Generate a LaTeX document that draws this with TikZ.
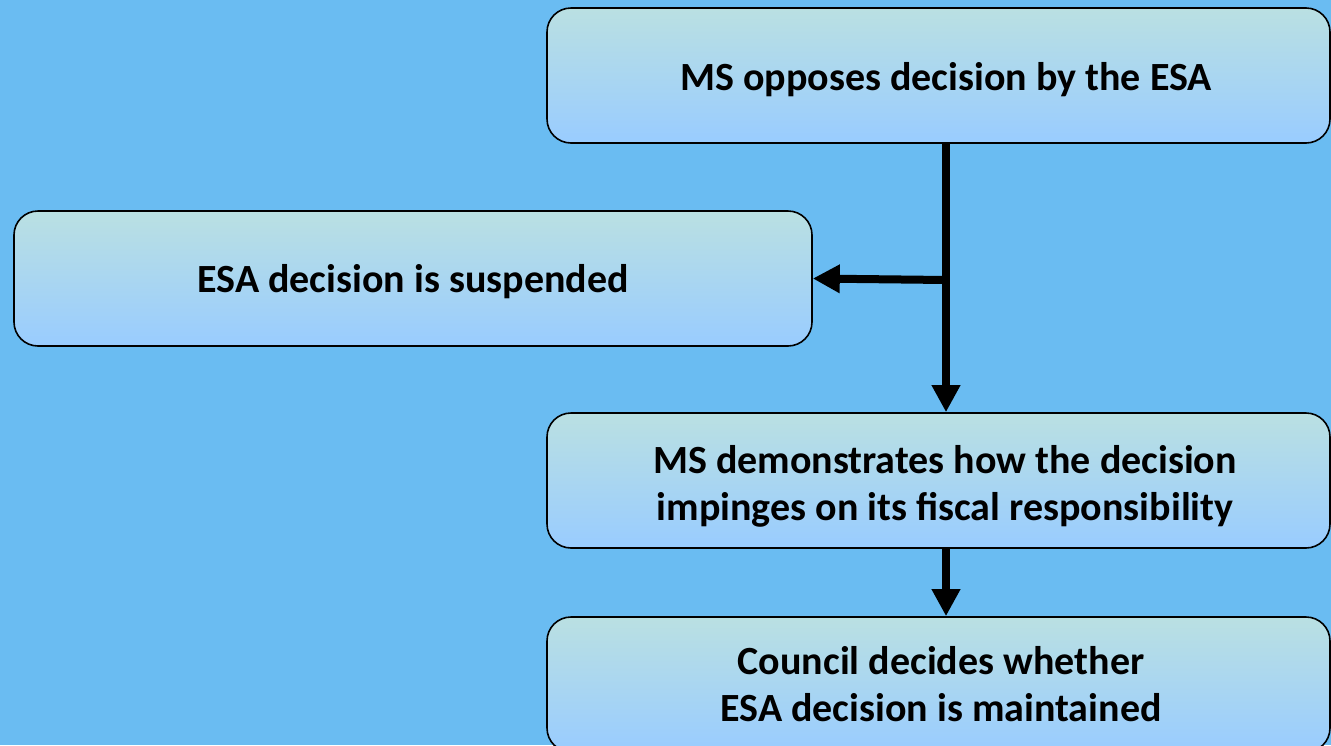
\documentclass[tikz,border=0pt]{standalone}
\usepackage{fontspec}
\setmainfont{Carlito}
\usetikzlibrary{arrows.meta}
\definecolor{bg}{HTML}{6ABCF2}
\definecolor{boxtop}{HTML}{BAE0E2}
\definecolor{boxbot}{HTML}{99CCFF}
\tikzset{
  flowbox/.style={draw=black, line width=1.6pt, rounded corners=24pt,
    top color=boxtop, bottom color=boxbot, minimum width=783pt, minimum height=135pt,
    inner sep=0pt, align=center, font=\fontsize{40}{47}\selectfont\bfseries},
  flowarrow/.style={line width=8pt, -{Triangle[length=27pt,width=27pt]}}
}
\begin{document}
\begin{tikzpicture}[x=1pt,y=-1pt]
\useasboundingbox (0,0) rectangle (1331,745);
\clip (0,0) rectangle (1331,745);
\fill[bg] (0,0) rectangle (1331,745);
\node[flowbox] (b1) at (938.5,75.5) {\hspace*{15pt}\rule{0pt}{36pt}MS opposes decision by the ESA};
\node[flowbox, minimum width=798pt] (b2) at (413,278.5) {\rule{0pt}{34pt}ESA decision is suspended};
\node[flowbox] (b3) at (938.5,480.5) {\hspace*{13pt}\rule{0pt}{40pt}MS demonstrates how the decision\\\hspace*{13pt}impinges on its fiscal responsibility};
\node[flowbox] (b4) at (938.5,684.5) {\hspace*{5pt}Council decides whether\\\hspace*{5pt}ESA decision is maintained};
\coordinate (j) at (946,280);
\draw[flowarrow] (b1.south -| j) -- (b3.north -| j);
\draw[flowarrow] (j) -- (b2.east);
\draw[flowarrow] (b3.south -| j) -- (b4.north -| j);
\end{tikzpicture}
\end{document}
